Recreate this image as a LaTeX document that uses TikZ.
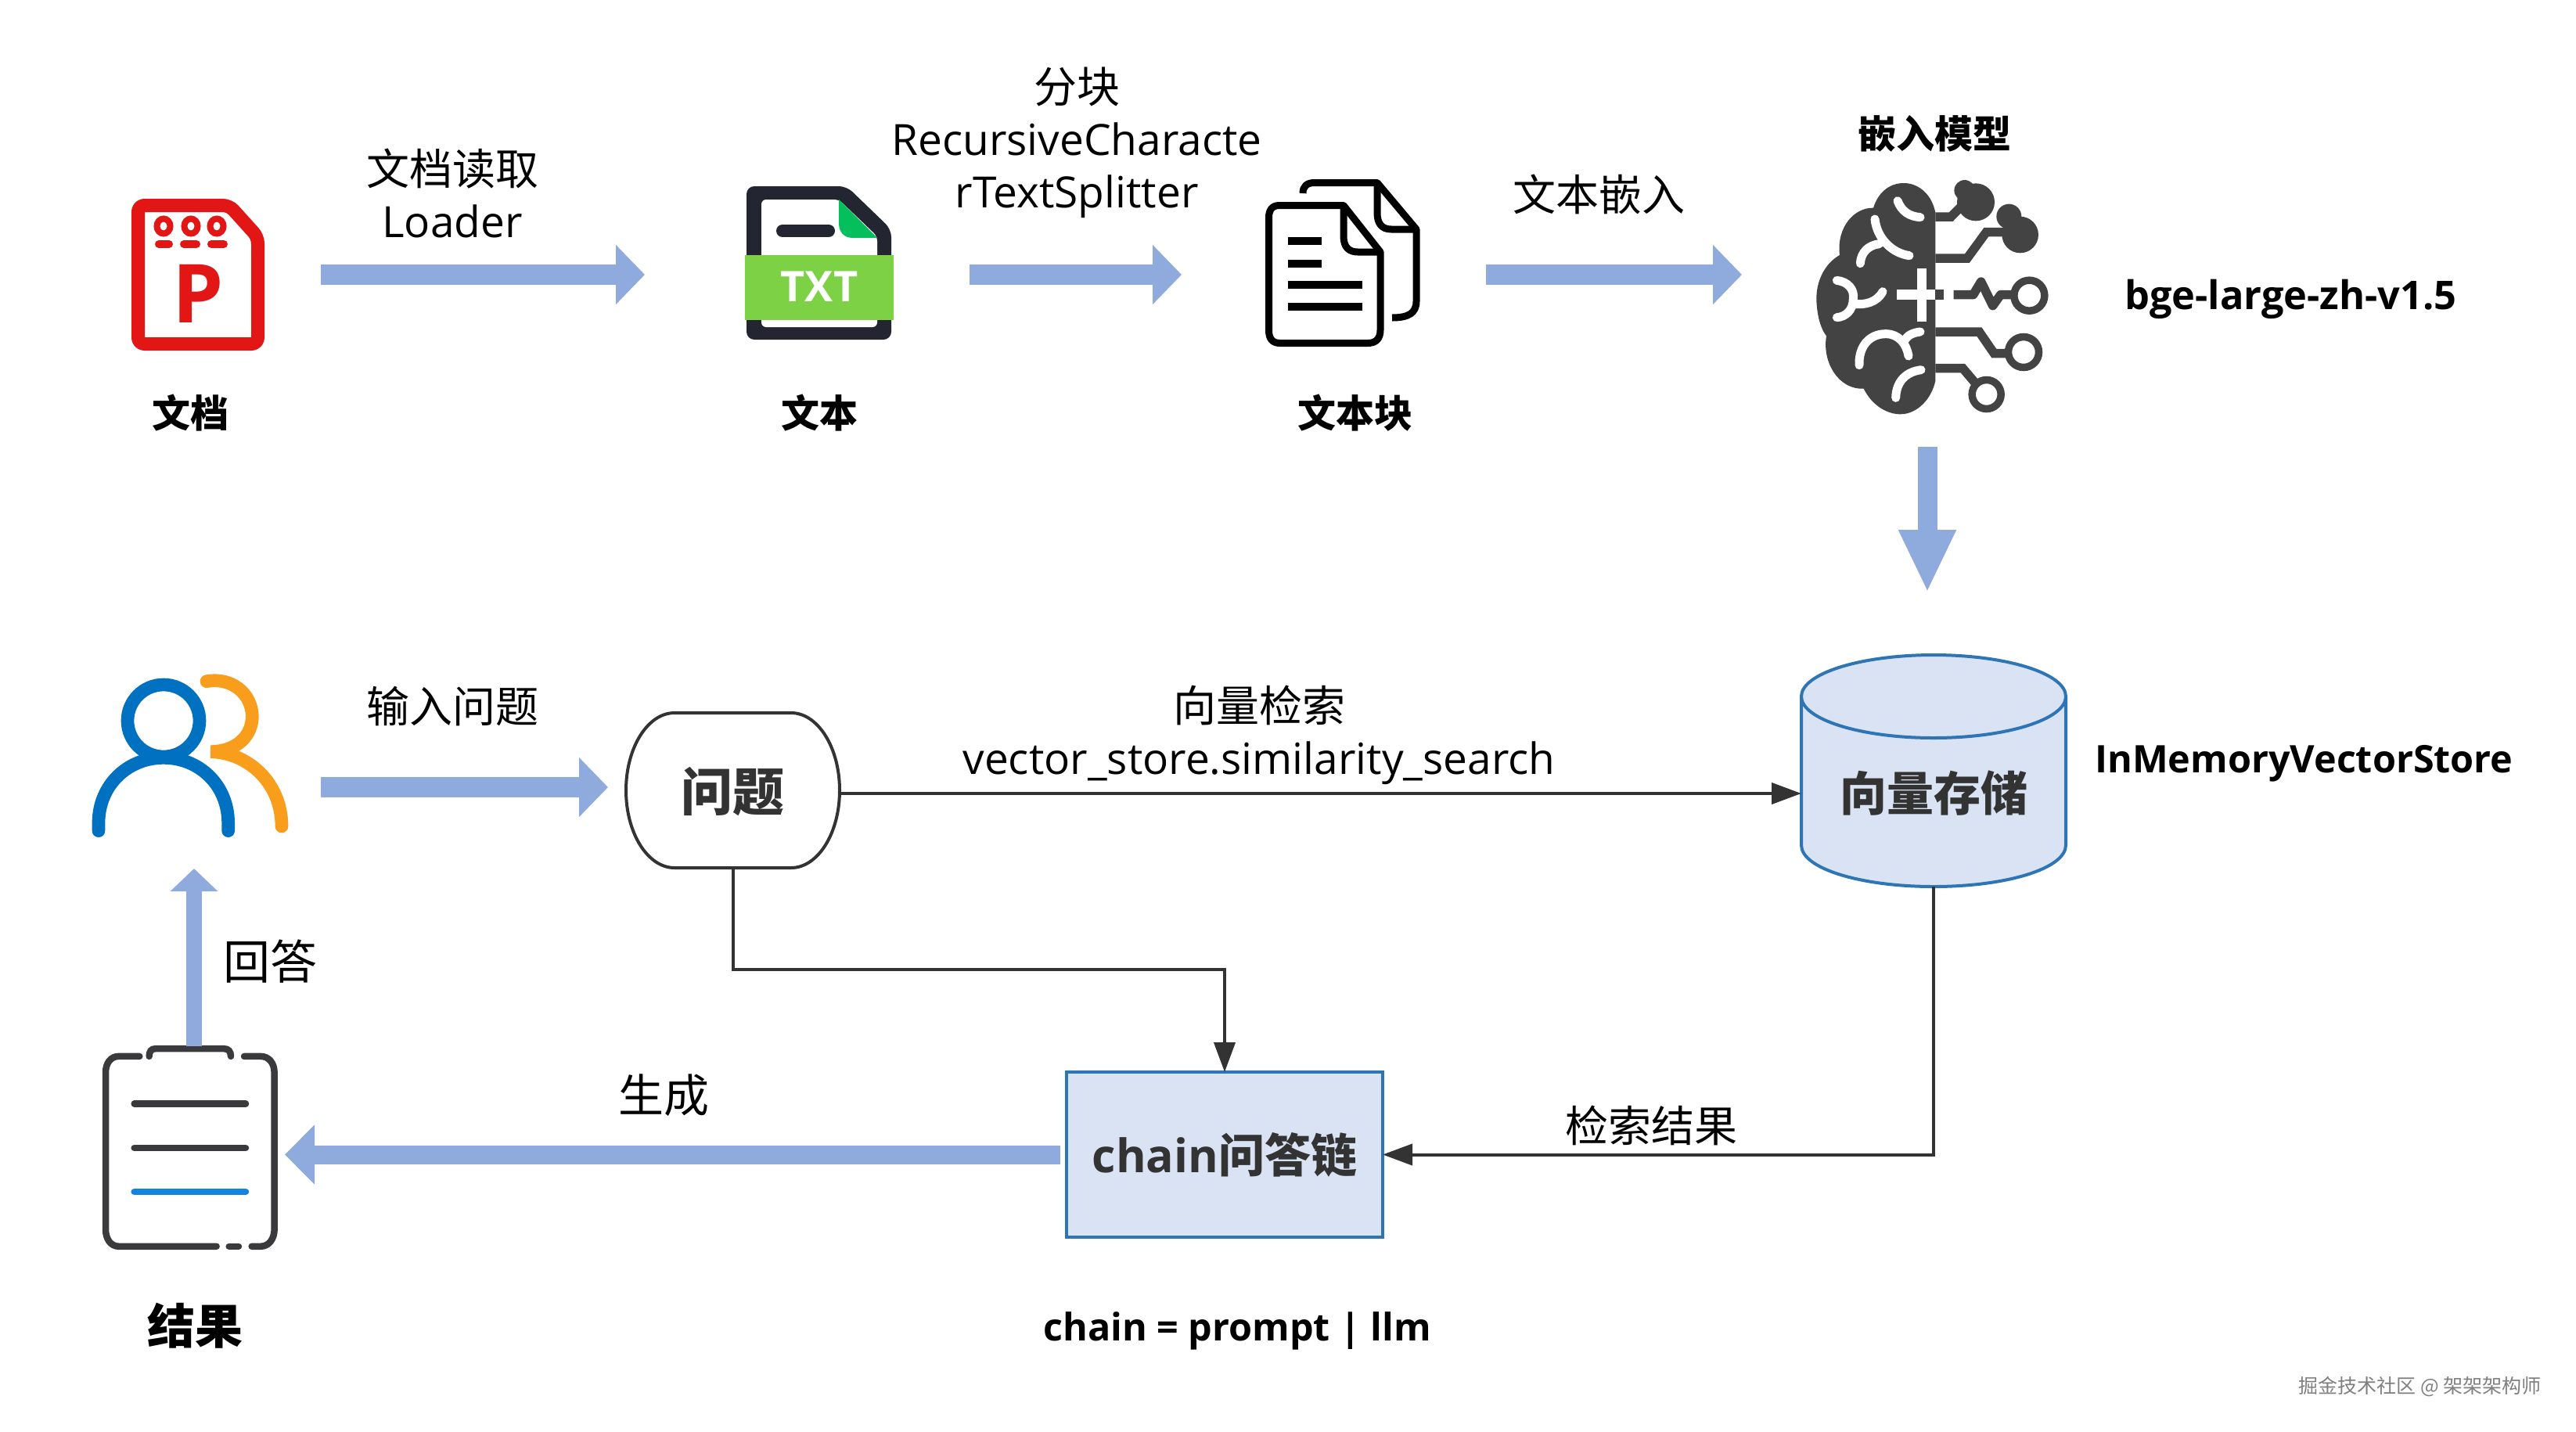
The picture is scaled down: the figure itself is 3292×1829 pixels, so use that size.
\documentclass[tikz,border=0pt]{standalone}
\usepackage{fontspec}
\setmainfont{Open Sans}
\newfontfamily\cjk{Noto Sans CJK SC}
\usetikzlibrary{arrows.meta,calc}
\definecolor{arrowblue}{HTML}{8FAADC}
\definecolor{boxfill}{HTML}{DAE3F3}
\definecolor{boxline}{HTML}{2E75B6}
\definecolor{ink}{HTML}{333333}
\definecolor{pred}{HTML}{E31616}
\definecolor{txtdark}{HTML}{232530}
\definecolor{txtgreen}{HTML}{7DD145}
\definecolor{txtcorner}{HTML}{05BE5C}
\definecolor{braingrey}{HTML}{434343}
\definecolor{userblue}{HTML}{0070C0}
\definecolor{userorange}{HTML}{F99D1C}
\definecolor{clipdark}{HTML}{3A3A3C}
\definecolor{clipblue}{HTML}{1283DF}
\tikzset{
  blockarrow/.style={draw=arrowblue,line width=26pt,-{Triangle[length=37pt,width=74pt,fill=arrowblue]}},
  linkarrow/.style={draw=ink,line width=4pt,-{Triangle[length=38pt,width=27pt,fill=ink]}},
  plainlabel/.style={inner sep=0pt,align=center,font=\fontsize{55}{67}\selectfont},
  boldlabel/.style={inner sep=0pt,align=center,font=\fontsize{49}{58}\selectfont\bfseries},
  boxtext/.style={inner sep=0pt,outer sep=0pt,align=center,text=ink,font=\fontsize{60}{72}\selectfont\bfseries},
  brainwhite/.style={draw=white,line width=11pt,line cap=round},
  braincircuit/.style={draw=braingrey,line width=11.5pt},
  userline/.style={line width=16.7pt,line cap=round},
  clipline/.style={draw=clipdark,line width=8.5pt,line cap=round},
}
\begin{document}
\begin{tikzpicture}[x=1pt,y=-1pt]
\path[use as bounding box,fill=white] (0,0) rectangle (3292,1829);

% ---- P document icon
\draw[pred,line width=17pt,line join=round,rounded corners=8pt]
  (176.5,262.5) -- (293,262.5) -- (329.5,303) -- (329.5,439.5) -- (176.5,439.5) -- cycle;
\foreach \dx in {209,244,277}{
  \draw[pred,line width=8pt] (\dx,289) ellipse [x radius=8.5,y radius=9.5];
}
\foreach \ax/\bx in {203/216,235/251,270/286}{
  \draw[pred,line width=10pt,line cap=round] (\ax,312) -- (\bx,312);
}
\node[inner sep=0pt,text=pred,font=\fontsize{104}{104}\selectfont\bfseries] (pglyph) at (253,375) {P};
\node[boldlabel] (doclabel) at (243,528) {\cjk 文档};

% ---- TXT icon
\fill[txtdark,rounded corners=10pt] (954,238) -- (1082,238) -- (1139,293) -- (1139,434) -- (954,434) -- cycle;
\fill[white,rounded corners=6pt] (973,255) -- (1072,255) -- (1121,302) -- (1121,418) -- (973,418) -- cycle;
\fill[txtcorner] (1072,255) -- (1121,304) -- (1090,304) .. controls (1078,304) and (1072,296) .. (1072,285) -- cycle;
\draw[txtdark,line width=16pt,line cap=round] (1000,295) -- (1059,295);
\fill[txtgreen] (952,326) rectangle (1142,409);
\node[inner sep=0pt,text=white,font=\fontsize{54}{54}\selectfont\bfseries] (txtglyph) at (1047,366) {TXT};
\node[boldlabel] (txtlabel) at (1047,528) {\cjk 文本};

% ---- text-chunk icon
\draw[black,line width=9pt,line join=round]
  (1665,247) .. controls (1665,238) and (1670,233.5) .. (1680,233.5) -- (1760,233.5) -- (1810,293) -- (1810,385)
  .. controls (1810,400) and (1800,406) .. (1779,406);
\draw[black,line width=9pt,line join=round]
  (1760,233.5) -- (1760,272) .. controls (1760,286) and (1766,293) .. (1778,293) -- (1810,293);
\draw[black,fill=white,line width=9pt,line join=round]
  (1635,262.5) -- (1717,262.5) -- (1764,322) -- (1764,422) .. controls (1764,433) and (1758,438.5) .. (1748,438.5)
  -- (1636,438.5) .. controls (1626,438.5) and (1621.5,433) .. (1621.5,422) -- (1621.5,278) .. controls (1621.5,268) and (1626,262.5) .. (1635,262.5) -- cycle;
\draw[black,line width=9pt,line join=round]
  (1717,262.5) -- (1717,302) .. controls (1717,316) and (1724,322) .. (1735,322) -- (1764,322);
\foreach \ly/\lx in {308/1689,337/1689,364/1741,392/1741}{
  \draw[black,line width=10pt] (1646,\ly) -- (\lx,\ly);
}
\node[boldlabel] (chunklabel) at (1732,528) {\cjk 文本块};

% ---- brain icon (zoom coordinates)
\begin{scope}[shift={(2300,200)},x=0.33333pt,y=-0.33333pt]
  \fill[braingrey]
    (520,860) -- (520,215)
    .. controls (505,140) and (450,100) .. (395,102)
    .. controls (340,104) and (300,140) .. (282,197)
    .. controls (210,195) and (140,270) .. (153,378)
    .. controls (95,410) and (62,480) .. (64,550)
    .. controls (66,610) and (80,660) .. (102,688)
    .. controls (85,790) and (150,895) .. (245,890)
    .. controls (280,960) and (340,988) .. (385,988)
    .. controls (450,988) and (505,930) .. (520,860) -- cycle;
  \draw[brainwhite] (375,170) .. controls (390,210) and (420,230) .. (462,233);
  \draw[brainwhite] (288,240) .. controls (295,310) and (350,370) .. (420,380);
  \draw[brainwhite] (232,410) .. controls (235,365) and (265,340) .. (305,335);
  \draw[brainwhite] (142,475) .. controls (185,480) and (210,510) .. (205,545) .. controls (205,590) and (175,615) .. (142,617);
  \draw[brainwhite] (205,565) .. controls (250,570) and (295,560) .. (318,518);
  \draw[brainwhite] (228,800) .. controls (225,730) and (265,680) .. (330,680) .. controls (380,680) and (410,720) .. (417,765);
  \draw[brainwhite] (400,710) .. controls (410,685) and (435,675) .. (462,672);
  \draw[brainwhite] (368,925) .. controls (370,860) and (410,825) .. (465,818);
  \fill[white] (372,510) rectangle (522,548);
  \fill[white] (450,430) rectangle (487,632);
  \fill[braingrey] (520,510) rectangle (553,548);
  \fill[braingrey] (632,130) circle [radius=13.3pt];
  \fill[braingrey] (675,175) circle [radius=24pt];
  \fill[braingrey] (802,230) circle [radius=16pt];
  \fill[braingrey] (845,300) circle [radius=23.3pt];
  \draw[braincircuit] (520,231) -- (580,231) -- (640,170);
  \draw[braincircuit] (520,390) -- (642,390) -- (715,290) -- (790,290);
  \draw[braincircuit,line join=round] (590,530) -- (665,530) -- (695,480) -- (740,572) -- (770,530) -- (830,530);
  \draw[braincircuit] (520,672) -- (688,672) -- (745,755) -- (810,755);
  \draw[braincircuit] (520,812) -- (625,812) -- (670,865);
  \draw[draw=braingrey,line width=9.5pt] (880,533) circle [radius=19.5pt];
  \draw[draw=braingrey,line width=9.5pt] (858,750) circle [radius=19.5pt];
  \draw[draw=braingrey,line width=9.5pt] (716,912) circle [radius=18.5pt];
\end{scope}
\node[boldlabel] (embedlabel) at (2472,171) {\cjk 嵌入模型};
\node[anchor=west,inner sep=0pt,font=\fontsize{50.5}{60}\selectfont\bfseries] (bgelabel) at (2715,382) {bge-large-zh-v1.5};

% ---- users icon (zoom coordinates)
\begin{scope}[shift={(90,840)},x=0.33333pt,y=-0.33333pt]
  \draw[userline,userorange] (522,92) .. controls (620,75) and (695,140) .. (697,225) .. controls (697,300) and (640,360) .. (538,362) .. controls (680,365) and (810,480) .. (810,648);
  \draw[userblue,line width=16.7pt] (357,243) circle [radius=46pt];
  \draw[userline,userblue] (108,665) -- (108,635) .. controls (108,490) and (220,385) .. (357,385) .. controls (494,385) and (605,490) .. (605,635) -- (605,665);
\end{scope}

% ---- clipboard icon (zoom coordinates)
\begin{scope}[shift={(100,1110)},x=0.33333pt,y=-0.42088pt]
  \draw[clipline] (235,570) -- (155,570) .. controls (125,570) and (105,590) .. (105,620) -- (105,1095) .. controls (105,1125) and (125,1147) .. (155,1147) -- (530,1147);
  \draw[clipline] (578,1147) -- (615,1147);
  \draw[clipline] (665,1147) -- (700,1147) .. controls (730,1147) and (752,1125) .. (752,1095) -- (752,620) .. controls (752,590) and (730,570) .. (700,570) -- (636,570);
  \draw[clipline] (272,570) .. controls (272,555) and (280,547) .. (295,547) -- (560,547) .. controls (575,547) and (585,555) .. (585,570);
  \draw[clipline] (215,714) -- (642,714);
  \draw[clipline] (215,848) -- (642,848);
  \draw[clipline,draw=clipblue] (215,981) -- (642,981);
\end{scope}
\node[inner sep=0pt,font=\fontsize{61}{72}\selectfont\bfseries] (resultlabel) at (249,1694) {\cjk 结果};

% ---- boxes
\draw[ink,line width=4pt] (800,1010) .. controls (800,955) and (828,911) .. (862,911) -- (1011,911)
  .. controls (1045,911) and (1073,955) .. (1073,1010) .. controls (1073,1065) and (1045,1109) .. (1011,1109)
  -- (862,1109) .. controls (828,1109) and (800,1065) .. (800,1010) -- cycle;
\node[boxtext,font=\fontsize{66}{72}\selectfont\bfseries,minimum width=273pt,minimum height=198pt] (question) at (936.5,1012) {\cjk 问题};

\draw[boxline,line width=4pt,fill=boxfill] (2302,890) -- (2302,1080) .. controls (2302,1110) and (2378,1133) .. (2471,1133)
  .. controls (2564,1133) and (2640,1110) .. (2640,1080) -- (2640,890);
\draw[boxline,line width=4pt,fill=boxfill] (2471,890) ellipse [x radius=169,y radius=53];
\node[boxtext,minimum width=338pt,minimum height=238pt] (store) at (2471,1014) {\cjk 向量存储};

\node[boxtext,draw=boxline,fill=boxfill,line width=4pt,minimum width=404pt,minimum height=211pt] (chain) at (1565,1475.5) {\fontsize{59}{72}\selectfont chain{\cjk 问答链}};

% ---- thin connectors
\draw[linkarrow] (store.west -| question.east) -- (store.west);
\draw[linkarrow] (question.south) -- ++(0,128) -| (chain.north);
\draw[linkarrow] (store.south) |- (chain.east);

% ---- block arrows
\coordinate (a1s) at (410,351); \coordinate (a1e) at (824,351);
\coordinate (a2s) at (1239,351); \coordinate (a2e) at (1510,351);
\coordinate (a3s) at (1899,351); \coordinate (a3e) at (2226,351);
\coordinate (a4s) at (2463,571); \coordinate (a4e) at (2463,757);
\coordinate (a5s) at (410,1006); \coordinate (a5e) at (777,1006);
\coordinate (a6s) at (1355,1475.5); \coordinate (a6e) at (364,1475.5);
\coordinate (a7s) at (248,1337); \coordinate (a7e) at (248,1110);
\draw[blockarrow] (a1s) -- (a1e);
\draw[blockarrow] (a2s) -- (a2e);
\draw[blockarrow] (a3s) -- (a3e);
\draw[blockarrow,line width=25pt,-{Triangle[length=80pt,width=68pt,fill=arrowblue]}] (a4s) -- (a4e);
\draw[blockarrow] (a5s) -- (a5e);
\draw[blockarrow,line width=24pt,-{Triangle[length=38pt,width=74pt,fill=arrowblue]}] (a6s) -- (a6e);
\draw[blockarrow,line width=20pt,-{Triangle[length=29pt,width=59pt,fill=arrowblue]}] (a7s) -- (a7e);

% ---- labels
\node[plainlabel] (lblload) at (578,247) {{\cjk 文档读取}\\Loader};
\node[plainlabel] (lblsplit) at (1376,182) {{\cjk 分块}\\RecursiveCharacte\\rTextSplitter};
\node[plainlabel] (lblembed) at (2043,248) {\cjk 文本嵌入};
\node[plainlabel] (lblinput) at (578,903) {\cjk 输入问题};
\node[plainlabel] (lblsearch) at (1609,939) {{\cjk 向量检索}\\vector\_store.similarity\_search};
\node[plainlabel] (lblresult) at (2110,1438) {\cjk 检索结果};
\node[plainlabel,font=\fontsize{58}{67}\selectfont] (lblgen) at (848,1400) {\cjk 生成};
\node[plainlabel,font=\fontsize{60}{67}\selectfont] (lblanswer) at (345,1229) {\cjk 回答};
\node[anchor=west,inner sep=0pt,font=\fontsize{48.5}{58}\selectfont\bfseries] (lblvec) at (2677,976) {InMemoryVectorStore};
\node[anchor=west,inner sep=0pt,font=\fontsize{48.5}{58}\selectfont\bfseries] (lblchain) at (1333,1701) {chain = prompt | llm};
\node[anchor=east,inner sep=0pt,text=black!50,font=\fontsize{25}{30}\selectfont] (mark) at (3248,1772) {\cjk 掘金技术社区 @ 架架架构师};
\end{tikzpicture}
\end{document}
